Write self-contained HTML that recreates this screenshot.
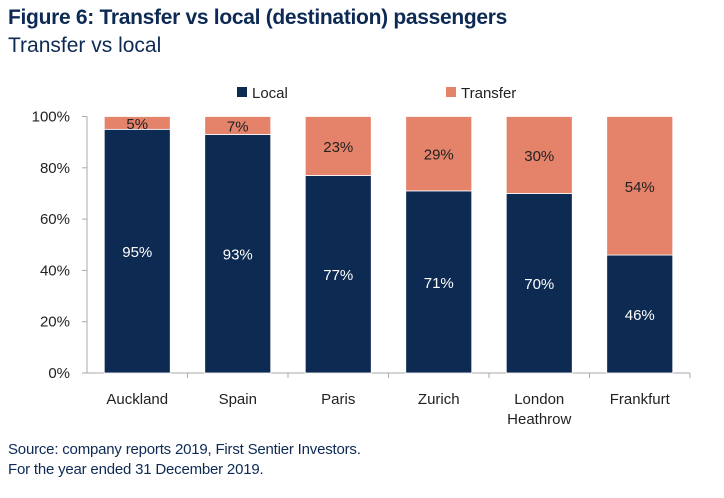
<!DOCTYPE html>
<html><head><meta charset="utf-8"><style>
body{margin:0;width:724px;height:498px;background:#fff;font-family:"Liberation Sans",sans-serif;overflow:hidden;position:relative}
.t{position:absolute;left:8px;color:#0d2a55}
</style></head><body>
<div class="t" style="top:6px;font-size:21px;font-weight:bold;letter-spacing:-0.3px">Figure 6: Transfer vs local (destination) passengers</div>
<div class="t" style="top:34px;font-size:21px">Transfer vs local</div>
<svg id="c" width="724" height="498" style="position:absolute;left:0;top:0"></svg>
<div class="t" style="top:440px;font-size:15px;line-height:20px;letter-spacing:-0.2px">Source: company reports 2019, First Sentier Investors.<br>For the year ended 31 December 2019.</div>
<script>
const categories=["Auckland","Spain","Paris","Zurich","London|Heathrow","Frankfurt"];
const local=[95,93,77,71,70,46];
const transfer=[5,7,23,29,30,54];
const ticks=[0,20,40,60,80,100];
const NS="http://www.w3.org/2000/svg",svg=document.getElementById('c');
const x0=87,step=100.5,y0=373,y1=116.5,bw=66;
const y=v=>y0-(v/100)*(y0-y1);
function mk(t,a,txt){const e=document.createElementNS(NS,t);for(const k in a)e.setAttribute(k,a[k]);if(txt!=null)e.textContent=txt;svg.appendChild(e);return e;}
ticks.forEach(v=>{
 mk('line',{x1:x0-5,x2:x0,y1:y(v),y2:y(v),stroke:'#aaa'});
 const t=mk('text',{x:x0-17,y:y(v)+5,'text-anchor':'end','font-size':15,fill:'#222'},v+'%');
 
 
});
mk('line',{x1:x0,x2:x0,y1:y1,y2:y0,stroke:'#aaa'});
mk('line',{x1:x0,x2:x0+step*categories.length,y1:y0,y2:y0,stroke:'#aaa'});
categories.forEach((c,i)=>{
 const cx=x0+step*(i+0.5),xl=cx-bw/2;
 mk('line',{x1:x0+step*(i+1),x2:x0+step*(i+1),y1:y0,y2:y0+5,stroke:'#aaa'});
 const b=mk('rect',{x:xl,y:y(local[i]),width:bw,height:y(0)-y(local[i]),fill:'#0d2a52',stroke:'#fff','stroke-width':0.8});
 
 
 const r=mk('rect',{x:xl,y:y(local[i]+transfer[i]),width:bw,height:y(local[i])-y(local[i]+transfer[i]),fill:'#e4826a',stroke:'#fff','stroke-width':0.8});
 
 
 const lm=(y(local[i])+y(0))/2;
 const l1=mk('text',{x:cx,y:lm+6,'text-anchor':'middle','font-size':15,fill:'#fff'},local[i]+'%');
 
 
 const tm=(y(local[i])+y(100))/2;
 const l2=mk('text',{x:cx,y:tm+6,'text-anchor':'middle','font-size':15,fill:'#222'},transfer[i]+'%');
 
 
 c.split('|').forEach((p,j)=>{
  const t=mk('text',{x:cx,y:y0+31+j*20,'text-anchor':'middle','font-size':15,fill:'#222'},p);
  
  
 });
});
const lg1=mk('rect',{x:237,y:87,width:10,height:10,fill:'#0d2a52'});


const lt1=mk('text',{x:252,y:98,'font-size':15,fill:'#222'},'Local');


const lg2=mk('rect',{x:446,y:87,width:10,height:10,fill:'#e4826a'});


const lt2=mk('text',{x:461,y:98,'font-size':15,fill:'#222'},'Transfer');


</script>
</body></html>
